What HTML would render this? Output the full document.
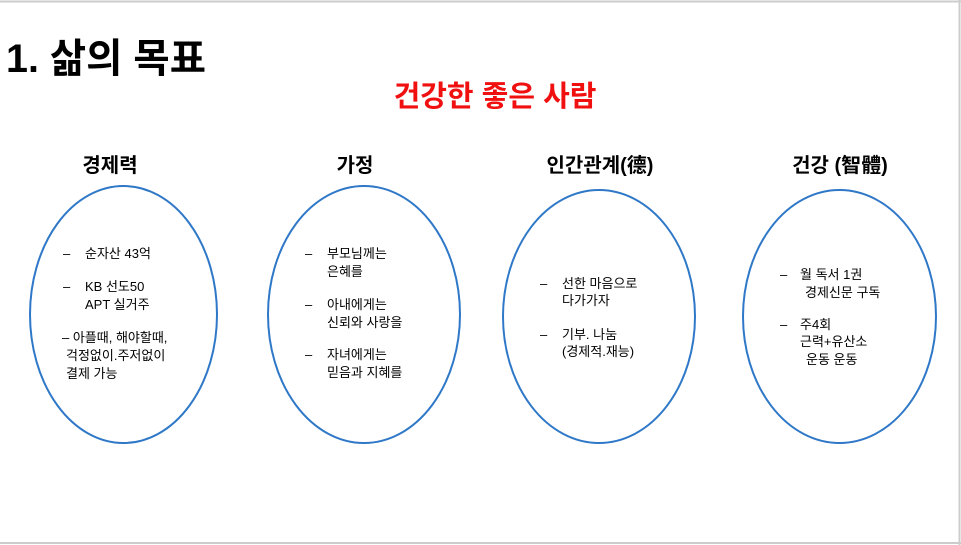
<!DOCTYPE html>
<html><head><meta charset="utf-8"><style>
html,body{margin:0;padding:0;background:#fff;}
svg{display:block;}
text{font-family:"Liberation Sans","Noto Sans CJK KR","NanumGothic",sans-serif;fill:#000;}
.s{font-size:13px;}
.h{font-size:20px;font-weight:bold;}
</style></head><body>
<svg width="961" height="545" viewBox="0 0 961 545" xmlns="http://www.w3.org/2000/svg">
<rect x="0" y="0" width="961" height="545" fill="#fff"/>
<line x1="0" y1="1.5" x2="961" y2="1.5" stroke="#ccc" stroke-width="2"/>
<line x1="959.5" y1="0" x2="959.5" y2="545" stroke="#ccc" stroke-width="2"/>
<line x1="0" y1="543" x2="961" y2="543" stroke="#ccc" stroke-width="2"/>
<text x="6" y="72" textLength="200" lengthAdjust="spacingAndGlyphs" style="font-size:40px;font-weight:bold;font-family:'Liberation Sans','Noto Sans CJK KR','NanumGothic',sans-serif">1. 삶의 목표</text>
<text x="495" y="106" text-anchor="middle" style="font-size:29px;font-weight:bold;fill:#f01010">건강한 좋은 사람</text>
<text class="h" x="110" y="172" text-anchor="middle">경제력</text>
<text class="h" x="355" y="172" text-anchor="middle">가정</text>
<text class="h" x="600" y="172" text-anchor="middle">인간관계(德)</text>
<text class="h" x="840" y="172" text-anchor="middle">건강 (智體)</text>
<g fill="none" stroke="#2f78c8" stroke-width="2">
<ellipse cx="123.5" cy="314.5" rx="93.5" ry="128.5"/>
<ellipse cx="364" cy="314.5" rx="96" ry="128.5"/>
<ellipse cx="599" cy="316.5" rx="96" ry="126.5"/>
<ellipse cx="839.5" cy="316.5" rx="96.5" ry="126.5"/>
</g>
<g class="s">
<text class="s" x="63" y="258">–</text><text class="s" x="85" y="258">순자산 43억</text>
<text class="s" x="63" y="291">–</text><text class="s" x="85" y="291">KB 선도50</text>
<text class="s" x="85" y="309">APT 실거주</text>
<text class="s" x="62" y="342">– 아플때, 해야할때,</text>
<text class="s" x="66" y="360">걱정없이.주저없이</text>
<text class="s" x="66" y="378">결제 가능</text>

<text class="s" x="305" y="258">–</text><text class="s" x="327" y="258">부모님께는</text>
<text class="s" x="327" y="276">은혜를</text>
<text class="s" x="305" y="309">–</text><text class="s" x="327" y="309">아내에게는</text>
<text class="s" x="327" y="327">신뢰와 사랑을</text>
<text class="s" x="305" y="359">–</text><text class="s" x="327" y="359">자녀에게는</text>
<text class="s" x="327" y="377">믿음과 지혜를</text>

<text class="s" x="540" y="288">–</text><text class="s" x="562" y="288">선한 마음으로</text>
<text class="s" x="562" y="305">다가가자</text>
<text class="s" x="540" y="339">–</text><text class="s" x="562" y="339">기부. 나눔</text>
<text class="s" x="562" y="356">(경제적.재능)</text>

<text class="s" x="780" y="279">–</text><text class="s" x="800" y="279">월 독서 1권</text>
<text class="s" x="805" y="297">경제신문 구독</text>
<text class="s" x="780" y="329">–</text><text class="s" x="800" y="329">주4회</text>
<text class="s" x="800" y="346">근력+유산소</text>
<text class="s" x="806" y="364">운동  운동</text>
</g>
</svg>
</body></html>
